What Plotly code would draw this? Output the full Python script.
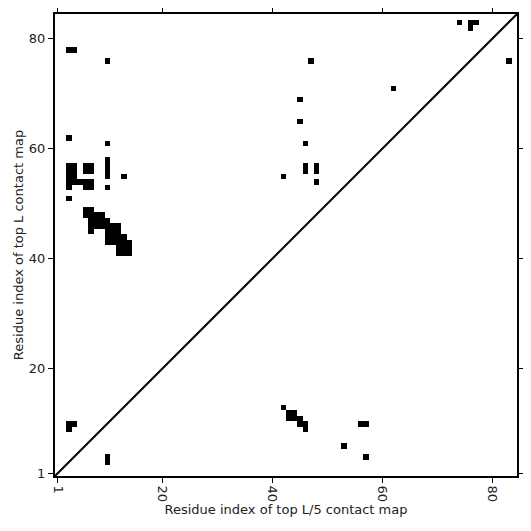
import plotly.graph_objects as go

L = 84
tick_vals = [1, 20, 40, 60, 80]
tick_text = ["1", "20", "40", "60", "80"]

# Top L contact map cells (x = residue i, y = residue j)
topL_x = [3, 4, 10, 3, 10,
          3, 3, 3, 3, 3,
          4, 4, 4, 4,
          5,
          6, 7, 6, 7, 6, 7, 6, 7,
          3, 10, 10, 10, 10, 10, 13,
          6, 7,
          6, 7, 8, 9,
          7, 8, 9, 10,
          7, 8, 9, 10, 11, 12,
          7, 10, 11, 12,
          10, 11, 12, 13,
          10, 11, 12, 13, 14,
          12, 13, 14,
          12, 13, 14,
          47, 45, 45, 46, 46, 46, 48, 48, 48, 42,
          74, 76, 77, 76, 83, 62,
          3, 4, 3]
topL_y = [78, 78, 76, 62, 61,
          53, 54, 55, 56, 57,
          54, 55, 56, 57,
          54,
          56, 56, 57, 57, 53, 53, 54, 54,
          51, 53, 55, 56, 57, 58, 55,
          49, 49,
          48, 48, 48, 48,
          47, 47, 47, 47,
          46, 46, 46, 46, 46, 46,
          45, 45, 45, 45,
          44, 44, 44, 44,
          43, 43, 43, 43, 43,
          42, 42, 42,
          41, 41, 41,
          76, 69, 65, 61, 56, 57, 56, 57, 54, 55,
          83, 83, 83, 82, 76, 71,
          10, 10, 9]

# Top L/5 contact map cells (x = residue j, y = residue i)
topL5_x = [42, 43, 43, 44, 44, 45, 45, 46, 46, 56, 57, 53, 57, 10, 10]
topL5_y = [13, 11, 12, 11, 12, 11, 10, 10, 9, 10, 10, 6, 4, 3, 4]

idx = list(range(1, L + 1))
z = [[None] * L for _ in range(L)]
for xs, ys in ((topL_x, topL_y), (topL5_x, topL5_y)):
    for a, b in zip(xs, ys):
        z[b - 1][a - 1] = 1

fig = go.Figure()
fig.add_trace(go.Heatmap(
    x=idx, y=idx, z=z,
    colorscale=[[0, "black"], [1, "black"]],
    showscale=False, hoverinfo="skip", zmin=0, zmax=1,
))
fig.add_trace(go.Scatter(
    x=[0.5, L + 0.5], y=[0.5, L + 0.5], mode="lines",
    line=dict(color="black", width=2), hoverinfo="skip", showlegend=False,
))

axis_common = dict(
    range=[0.5, L + 0.5], tickvals=tick_vals, ticktext=tick_text,
    showgrid=False, zeroline=False, showline=True, linecolor="black",
    linewidth=2, mirror="ticks", ticks="outside", ticklen=5, tickwidth=1,
    tickcolor="black", automargin=False,
    tickfont=dict(family="DejaVu Sans", size=13, color="#222"),
)
fig.update_layout(
    width=531, height=531,
    margin=dict(l=47, r=22, t=6, b=63, autoexpand=False),
    paper_bgcolor="white", plot_bgcolor="white",
    showlegend=False,
    font=dict(family="DejaVu Sans", size=13, color="#222"),
    xaxis=dict(axis_common, tickangle=90,
               title=dict(text="Residue index of top L/5 contact map", standoff=4,
                          font=dict(size=13))),
    yaxis=dict(axis_common,
               title=dict(text="Residue index of top L contact map", standoff=2,
                          font=dict(size=13))),
)
fig.write_html("out.html")
